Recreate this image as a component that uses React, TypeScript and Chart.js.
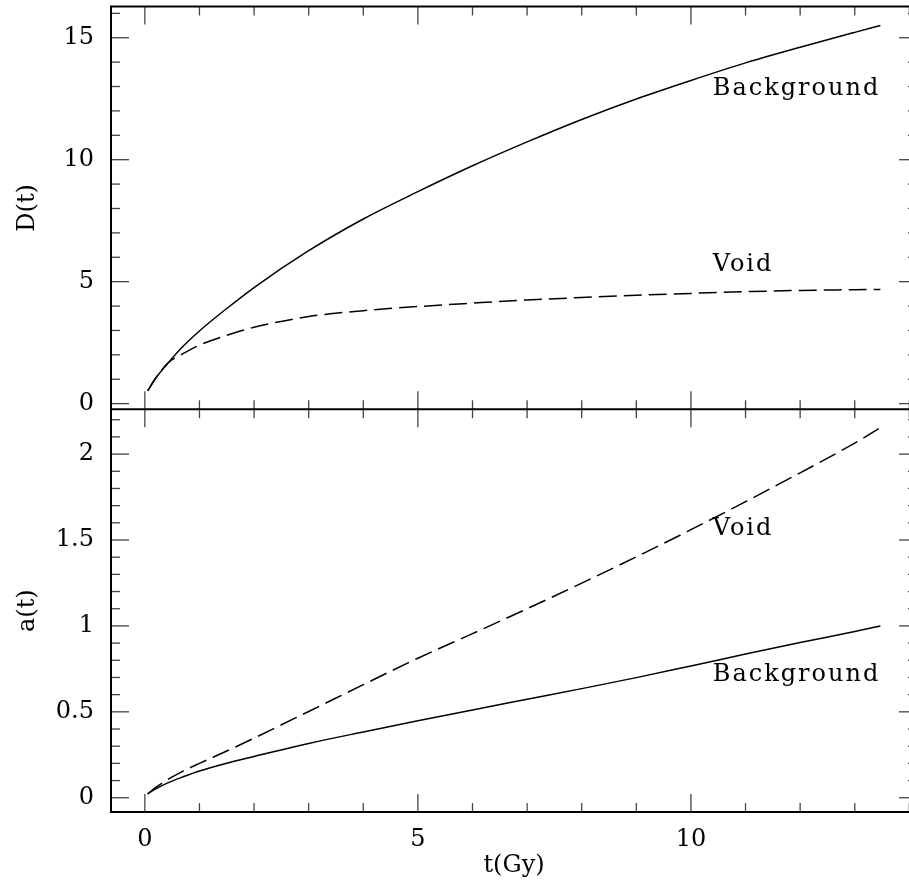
import React, { useEffect, useRef } from 'react';
import { Chart, registerables } from 'chart.js';

Chart.register(...registerables);

// ---- data ----
const T = [0.05, 0.2, 0.43, 0.7, 1.0, 1.5, 2, 3, 4, 5, 6, 7, 8, 9, 10, 11, 12, 13, 13.47];
const D_BACKGROUND = [0.52, 1.05, 1.68, 2.35, 2.98, 3.9, 4.76, 6.27, 7.57, 8.69, 9.75, 10.73, 11.65, 12.49, 13.25, 13.97, 14.61, 15.22, 15.5];
const D_VOID = [0.52, 1.05, 1.68, 2.05, 2.4, 2.8, 3.13, 3.57, 3.81, 3.98, 4.12, 4.25, 4.35, 4.44, 4.52, 4.59, 4.64, 4.67, 4.68];
const A_BACKGROUND = [0.022, 0.052, 0.088, 0.122, 0.156, 0.201, 0.24, 0.316, 0.383, 0.448, 0.511, 0.573, 0.635, 0.699, 0.767, 0.836, 0.903, 0.968, 1.0];
const A_VOID = [0.022, 0.06, 0.108, 0.155, 0.2, 0.272, 0.347, 0.502, 0.658, 0.812, 0.955, 1.1, 1.249, 1.402, 1.56, 1.723, 1.891, 2.064, 2.154];

const X_MAJOR = [0, 5, 10];
const D_MAJOR = [0, 5, 10, 15];
const A_MAJOR = [0, 0.5, 1, 1.5, 2];
const X_MINOR_STEP = 1;
const D_MINOR_STEP = 1;
const A_MINOR_STEP = 0.1;

const TOP_NOTES = [
  { text: 'Background', t: 10.4, v: 12.65 },
  { text: 'Void', t: 10.4, v: 5.45 },
];
const BOTTOM_NOTES = [
  { text: 'Void', t: 10.4, v: 1.532 },
  { text: 'Background', t: 10.4, v: 0.68 },
];

const FONT_FAMILY = '"DejaVu Serif", serif';
const TICK_COLOR = '#444';

const framePlugin = {
  id: 'frame',
  afterDatasetsDraw(chart: any) {
    const { ctx, chartArea: ca } = chart;
    const sx = chart.scales.x;
    const st = chart.scales.yTop;
    const sb = chart.scales.yBot;
    const mid = st.bottom;
    const MAJ = 18;
    const MIN = 9;
    ctx.save();
    const line = (x1: number, y1: number, x2: number, y2: number) => {
      ctx.beginPath();
      ctx.moveTo(x1, y1);
      ctx.lineTo(x2, y2);
      ctx.stroke();
    };
    ctx.strokeStyle = TICK_COLOR;
    ctx.lineWidth = 1.3;
    // x ticks
    const xn = Math.floor(sx.max / X_MINOR_STEP);
    for (let i = Math.ceil(sx.min / X_MINOR_STEP); i <= xn; i++) {
      const t = i * X_MINOR_STEP;
      const px = sx.getPixelForValue(t);
      const len = X_MAJOR.includes(t) ? MAJ : MIN;
      line(px, ca.top, px, ca.top + len);
      line(px, mid, px, mid - len);
      line(px, mid, px, mid + len);
      line(px, ca.bottom, px, ca.bottom - len);
    }
    // top panel y ticks
    for (let i = Math.ceil(st.min / D_MINOR_STEP); i <= Math.floor(st.max / D_MINOR_STEP); i++) {
      const v = i * D_MINOR_STEP;
      const py = st.getPixelForValue(v);
      const len = D_MAJOR.includes(v) ? MAJ : MIN;
      line(ca.left, py, ca.left + len, py);
      line(ca.right, py, ca.right - len, py);
    }
    // bottom panel y ticks
    for (let i = Math.ceil(sb.min / A_MINOR_STEP); i <= Math.floor(sb.max / A_MINOR_STEP); i++) {
      const v = Math.round(i * A_MINOR_STEP * 10) / 10;
      const py = sb.getPixelForValue(v);
      const len = A_MAJOR.includes(v) ? MAJ : MIN;
      line(ca.left, py, ca.left + len, py);
      line(ca.right, py, ca.right - len, py);
    }
    // frame
    ctx.strokeStyle = '#000';
    ctx.lineWidth = 2;
    ctx.strokeRect(ca.left, ca.top, ca.right - ca.left, ca.bottom - ca.top);
    line(ca.left, mid, ca.right, mid);
    // notes
    ctx.fillStyle = '#000';
    ctx.font = '24px ' + FONT_FAMILY;
    (ctx as any).letterSpacing = '2px';
    ctx.textAlign = 'left';
    ctx.textBaseline = 'alphabetic';
    for (const n of TOP_NOTES) ctx.fillText(n.text, sx.getPixelForValue(n.t), st.getPixelForValue(n.v));
    for (const n of BOTTOM_NOTES) ctx.fillText(n.text, sx.getPixelForValue(n.t), sb.getPixelForValue(n.v));
    ctx.restore();
  },
};

function pts(ys: number[]) {
  return T.map((t, i) => ({ x: t, y: ys[i] }));
}

export default function App() {
  const ref = useRef<HTMLCanvasElement | null>(null);
  useEffect(() => {
    if (!ref.current) return;
    const font = { family: FONT_FAMILY, size: 24 };
    const base = {
      borderColor: '#000',
      backgroundColor: '#000',
      borderWidth: 1.5,
      pointRadius: 0,
      fill: false,
      cubicInterpolationMode: 'monotone' as const,
    };
    const fitY = (s: any) => {
      s.width = 111;
      s.paddingTop = 0;
      s.paddingBottom = 0;
    };
    const fmt = (v: any) => String(v);
    const chart = new Chart(ref.current, {
      type: 'line',
      data: {
        datasets: [
          { ...base, label: 'D background', data: pts(D_BACKGROUND), xAxisID: 'x', yAxisID: 'yTop' },
          { ...base, label: 'D void', data: pts(D_VOID), xAxisID: 'x', yAxisID: 'yTop', borderDash: [18, 7] },
          { ...base, label: 'a background', data: pts(A_BACKGROUND), xAxisID: 'x', yAxisID: 'yBot' },
          { ...base, label: 'a void', data: pts(A_VOID), xAxisID: 'x', yAxisID: 'yBot', borderDash: [18, 7] },
        ],
      },
      options: {
        animation: false,
        responsive: false,
        events: [],
        layout: { padding: { top: 6.5, right: 13, bottom: 0, left: 0 } },
        plugins: { legend: { display: false }, tooltip: { enabled: false } },
        scales: {
          x: {
            type: 'linear',
            position: 'bottom',
            min: -0.62,
            max: 14.14,
            grid: { display: false, drawTicks: false },
            border: { display: false },
            ticks: { font, color: '#000', padding: 13, maxRotation: 0, callback: fmt },
            afterBuildTicks: (s: any) => { s.ticks = X_MAJOR.map((v) => ({ value: v })); },
            afterFit: (s: any) => { s.height = 82; s.paddingLeft = 0; s.paddingRight = 0; },
            title: { display: true, text: 't(Gy)', font, color: '#000', padding: { top: 0, bottom: 13.6 } },
          },
          yTop: {
            type: 'linear',
            position: 'left',
            stack: 'panels',
            stackWeight: 1,
            weight: 2,
            min: -0.23,
            max: 16.28,
            grid: { display: false, drawTicks: false },
            border: { display: false },
            ticks: { font, color: '#000', padding: 17, callback: fmt },
            afterBuildTicks: (s: any) => { s.ticks = D_MAJOR.map((v) => ({ value: v })); },
            afterFit: fitY,
            title: { display: true, text: 'D(t)', font, color: '#000', padding: { top: 13, bottom: 0 } },
          },
          yBot: {
            type: 'linear',
            position: 'left',
            stack: 'panels',
            stackWeight: 1,
            weight: 1,
            min: -0.083,
            max: 2.261,
            grid: { display: false, drawTicks: false },
            border: { display: false },
            ticks: { font, color: '#000', padding: 17, callback: fmt },
            afterBuildTicks: (s: any) => { s.ticks = A_MAJOR.map((v) => ({ value: v })); },
            afterFit: fitY,
            title: { display: true, text: 'a(t)', font, color: '#000', padding: { top: 13, bottom: 0 } },
          },
        },
      } as any,
      plugins: [framePlugin],
    });
    return () => chart.destroy();
  }, []);
  return (
    <div style={{ position: 'fixed', left: 0, top: 0, width: 909, height: 894, overflow: 'hidden', background: '#fff' }}>
      <canvas ref={ref} width={930} height={894} style={{ display: 'block' }} />
    </div>
  );
}
